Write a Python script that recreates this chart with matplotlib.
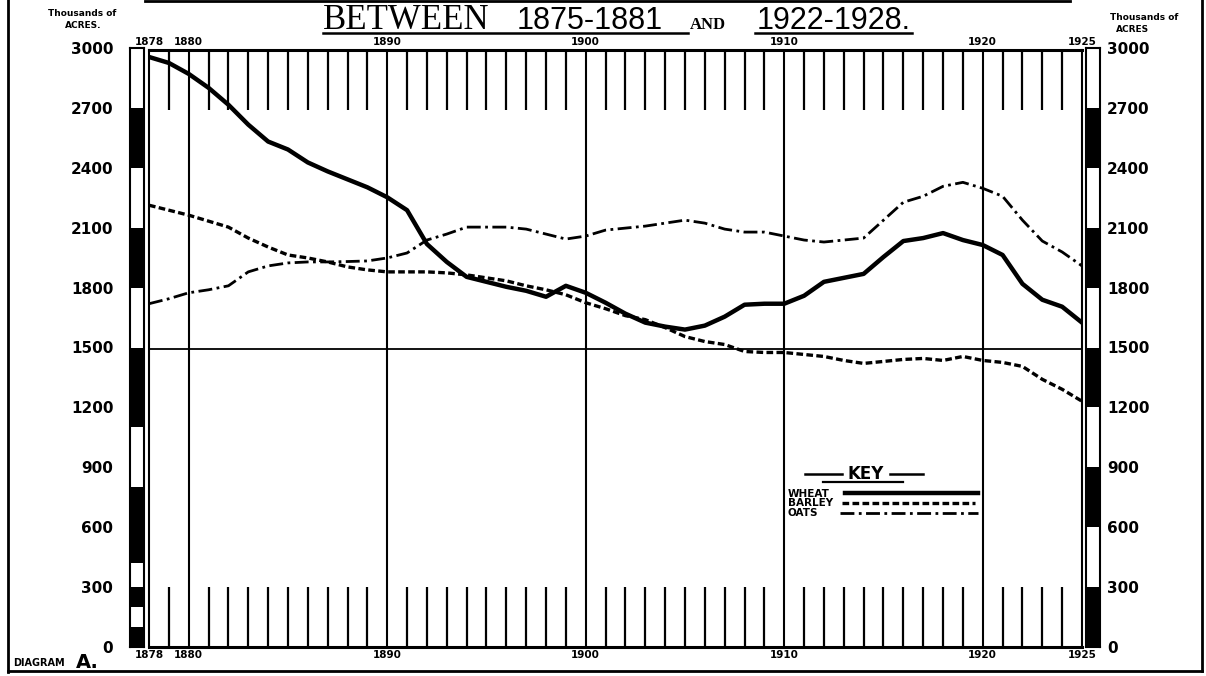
import matplotlib.pyplot as plt
from matplotlib.lines import Line2D

# acreage (thousands of acres)
years = list(range(1878, 1926))
wheat = [2965, 2935, 2880, 2810, 2725, 2625, 2540, 2500, 2435, 2390,
         2350, 2310, 2260, 2195, 2025, 1935, 1860, 1835, 1810, 1790,
         1760, 1815, 1780, 1730, 1675, 1630, 1610, 1595, 1615, 1660,
         1720, 1725, 1725, 1765, 1835, 1855, 1875, 1960, 2040, 2055,
         2080, 2045, 2020, 1970, 1825, 1745, 1710, 1630]
barley = [2220, 2195, 2170, 2140, 2110, 2055, 2010, 1970, 1955, 1935,
          1910, 1895, 1885, 1885, 1885, 1880, 1870, 1855, 1840, 1815,
          1795, 1770, 1730, 1700, 1665, 1645, 1605, 1560, 1535, 1520,
          1485, 1480, 1480, 1470, 1460, 1440, 1425, 1435, 1445, 1450,
          1440, 1460, 1440, 1430, 1410, 1345, 1295, 1235]
oats = [1725, 1750, 1780, 1795, 1815, 1885, 1915, 1930, 1935, 1935,
        1937, 1940, 1955, 1980, 2045, 2075, 2110, 2110, 2110, 2100,
        2075, 2050, 2065, 2095, 2105, 2115, 2130, 2145, 2130, 2100,
        2085, 2085, 2065, 2045, 2035, 2045, 2055, 2145, 2235, 2265,
        2315, 2335, 2305, 2265, 2145, 2040, 1985, 1915]

y_ticks = [0, 300, 600, 900, 1200, 1500, 1800, 2100, 2400, 2700, 3000]
x_labels = [1878, 1880, 1890, 1900, 1910, 1920, 1925]
decades = [1880, 1890, 1900, 1910, 1920]

# black blocks of the two scale bars
left_bar_lo = [2400, 1800, 1100, 420, 200, 0]
left_bar_hi = [2700, 2100, 1500, 800, 300, 100]
right_bar_lo = [2400, 1800, 1200, 600, 0]
right_bar_hi = [2700, 2100, 1500, 900, 300]

W, H = 1206, 676
fig = plt.figure(figsize=(W / 100, H / 100), dpi=100)


def fx(px):
    return px / W


def fy(py):
    return 1 - py / H


def line(xs, ys, lw=2.0, **kw):
    fig.add_artist(Line2D([fx(x) for x in xs], [fy(y) for y in ys],
                          color='black', lw=lw, **kw))


# main plot
ax = fig.add_axes([fx(149), fy(647), fx(1082) - fx(149), fy(50) - fy(647)])
ax.set_xlim(1878, 1925)
ax.set_ylim(0, 3000)
for side in ['top', 'bottom']:
    ax.spines[side].set_linewidth(2.2)
for side in ['left', 'right']:
    ax.spines[side].set_linewidth(1.5)

for yr in years:
    if yr in decades:
        ax.axvline(yr, color='black', lw=1.5)
    elif yr not in (1878, 1925):
        ax.vlines(yr, 2700, 3000, color='black', lw=1.6)
        ax.vlines(yr, 0, 300, color='black', lw=1.6)
ax.axhline(1500, color='black', lw=1.3)

ax.plot(years, wheat, color='black', lw=3.2, solid_joinstyle='round')
ax.plot(years, barley, color='black', lw=2.4, linestyle=(0, (2.0, 1.0)))
ax.plot(years, oats, color='black', lw=2.0, linestyle=(0, (5, 1.6, 1, 1.6)))

ax.set_xticks(x_labels)
ax.set_xticklabels([str(x) for x in x_labels])
ax.tick_params(axis='x', length=0, top=True, labeltop=True, pad=2.5, labelsize=7.5)
plt.setp(ax.get_xticklabels(), fontweight='bold')
ax.set_yticks([])

# scale bars with the value labels
for left_px, lo, hi, side in [(130, left_bar_lo, left_bar_hi, 'left'),
                              (1086, right_bar_lo, right_bar_hi, 'right')]:
    bax = fig.add_axes([fx(left_px), fy(647), fx(14), fy(48) - fy(647)])
    bax.set_xlim(0, 1)
    bax.set_ylim(0, 3000)
    bax.bar([0.5] * len(lo), [h - l for l, h in zip(lo, hi)], bottom=lo,
            width=1, color='black')
    for s in bax.spines.values():
        s.set_linewidth(1.5)
    bax.set_xticks([])
    bax.set_yticks(y_ticks)
    bax.set_yticklabels([str(v) for v in y_ticks])
    if side == 'left':
        bax.tick_params(axis='y', length=0, pad=12, labelsize=11)
    else:
        bax.tick_params(axis='y', length=0, pad=5, labelsize=11,
                        left=False, labelleft=False, right=True, labelright=True)
    plt.setp(bax.get_yticklabels(), fontweight='bold')

# axis captions
fig.text(fx(82), fy(13), 'Thousands of', ha='center', va='center', fontsize=6.5, fontweight='bold')
fig.text(fx(83), fy(25), 'ACRES.', ha='center', va='center', fontsize=6.5, fontweight='bold')
fig.text(fx(1144), fy(17), 'Thousands of', ha='center', va='center', fontsize=6.5, fontweight='bold')
fig.text(fx(1133), fy(29), 'ACRES', ha='center', va='center', fontsize=6.5, fontweight='bold')

# title (the first line is cut off at the top edge)
line([145, 1070], [1, 1], lw=2.0)
fig.text(fx(323), fy(29), 'BETWEEN', ha='left', va='baseline',
         fontsize=25, family='Liberation Serif')
fig.text(fx(517), fy(29), '1875-1881', ha='left', va='baseline',
         fontsize=22, family='Liberation Sans')
fig.text(fx(690), fy(29), 'AND', ha='left', va='baseline',
         fontsize=12, family='Liberation Serif', fontweight='bold')
fig.text(fx(757), fy(29), '1922-1928.', ha='left', va='baseline',
         fontsize=22, family='Liberation Sans')
line([323, 688], [33, 33], lw=1.8)
line([755, 912], [33, 33], lw=1.8)

# key
fig.text(fx(866), fy(474), 'KEY', ha='center', va='center', fontsize=12, fontweight='bold')
line([805, 842], [474, 474], lw=1.8)
line([890, 923], [474, 474], lw=1.8)
line([823, 903], [482, 482], lw=1.6)
fig.text(fx(788), fy(494), 'WHEAT', ha='left', va='center', fontsize=7.5, fontweight='bold')
fig.text(fx(788), fy(503), 'BARLEY', ha='left', va='center', fontsize=7.5, fontweight='bold')
fig.text(fx(788), fy(513), 'OATS', ha='left', va='center', fontsize=7.5, fontweight='bold')
line([845, 978], [493, 493], lw=3.2)
line([842, 975], [503, 503], lw=2.4, linestyle=(0, (2.0, 1.0)))
line([840, 978], [513, 513], lw=2.0, linestyle=(0, (5, 1.6, 1, 1.6)))

# diagram label and page border
fig.text(fx(13), fy(666), 'DIAGRAM', ha='left', va='baseline', fontsize=7, fontweight='bold')
fig.text(fx(76), fy(668), 'A.', ha='left', va='baseline', fontsize=14, fontweight='bold')
line([8, 8], [0, 672], lw=2.0)
line([8, 1202], [671, 671], lw=2.0)
line([1202, 1202], [0, 671], lw=2.0)

plt.savefig('out.png', dpi=100)
